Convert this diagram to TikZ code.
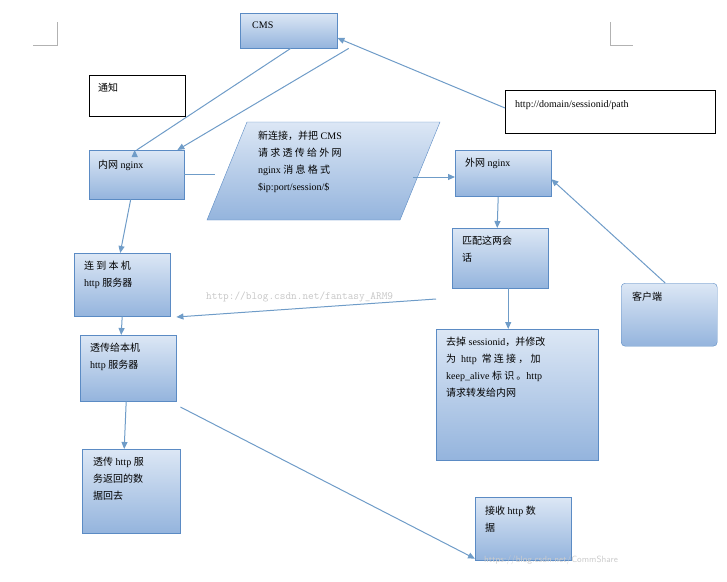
\documentclass[tikz,border=0pt]{standalone}
\usepackage{fontspec}
\setmainfont{Liberation Serif}
\newfontfamily\zh{Noto Sans CJK SC}
\usetikzlibrary{positioning,arrows.meta}
\definecolor{boxline}{HTML}{5B8BC4}
\definecolor{boxtop}{HTML}{DCE7F5}
\definecolor{boxbot}{HTML}{94B4DD}
\definecolor{arrowcol}{HTML}{6F9CC8}
\tikzset{
  box/.style={draw=boxline,top color=boxtop,bottom color=boxbot,anchor=north west,inner sep=0pt},
  plainbox/.style={draw=black,fill=white,anchor=north west,inner sep=0pt},
  txt/.style={anchor=north west,align=left,font=\fontsize{10}{17}\selectfont,inner sep=0pt},
  link/.style={draw=arrowcol,line width=1pt,-{Triangle[length=7pt,width=6pt]}}
}
\begin{document}
\begin{tikzpicture}[x=1pt,y=-1pt]
\useasboundingbox (0,0) rectangle (727,581);
% page corner marks
\draw[gray!60] (33,45)--(57,45)--(57,22) (610,22)--(610,45)--(633,45);
% boxes
\node[box,minimum width=97,minimum height=35] (cms) at (240,13) {};
\node[txt] at (252,22) {CMS};
\node[plainbox,minimum width=96,minimum height=41] (notice) at (89,75) {};
\node[txt] at (98,83) {\zh 通知};
\node[plainbox,minimum width=210,minimum height=43] (url) at (505,90) {};
\node[txt] at (515,100) {http://domain/sessionid/path};
\node[box,minimum width=95,minimum height=49] (inner) at (89,150) {};
\node[txt] at (98,160) {{\zh 内网} nginx};
\path[draw=boxline,top color=boxtop,bottom color=boxbot] (247,122)--(440,122)--(400,220)--(207,220)--cycle;
\coordinate (paraL) at (215,174);
\coordinate (paraR) at (413,177);
\node[txt] at (258,131) {{\zh 新连接，并把} CMS\\{\zh 请 求 透 传 给 外 网}\\nginx {\zh 消 息 格 式}\\\$ip:port/session/\$};
\node[box,minimum width=96,minimum height=46] (outer) at (455,150) {};
\node[txt] at (465,158) {{\zh 外网} nginx};
\node[box,minimum width=96,minimum height=60] (match) at (452,228) {};
\node[txt] at (462,236) {\zh 匹配这两会\\\zh 话};
\node[box,rounded corners=4pt,minimum width=96,minimum height=63] (client) at (621,283) {};
\node[txt] at (632,292) {\zh 客户端};
\node[box,minimum width=96,minimum height=63] (local) at (74,253) {};
\node[txt] at (84,261) {\zh 连 到 本 机\\http {\zh 服务器}};
\node[box,minimum width=96,minimum height=66] (relay) at (80,335) {};
\node[txt] at (90,343) {\zh 透传给本机\\http {\zh 服务器}};
\node[box,minimum width=162,minimum height=131] (strip) at (436,329) {};
\node[txt] at (446,337) {{\zh 去掉} sessionid{\zh ，并修改}\\{\zh 为} \ http \ {\zh 常 连 接 ， 加}\\keep\_alive {\zh 标 识 。}http\\\zh 请求转发给内网};
\node[box,minimum width=98,minimum height=84] (back) at (82,449) {};
\node[txt] at (93,457) {{\zh 透传} http {\zh 服}\\\zh 务返回的数\\\zh 据回去};
\node[box,minimum width=96,minimum height=63] (recv) at (475,497) {};
\node[txt] at (485,506) {{\zh 接收} http {\zh 数}\\\zh 据};
% watermarks
\node[txt,text=gray!45,font=\ttfamily\fontsize{11}{13}\selectfont] at (206,292) {http://blog.csdn.net/fantasy\_ARM9};
\node[txt,text=gray!40,font=\sffamily\fontsize{9}{11}\selectfont] at (484,556) {https://blog.csdn.net/CommShare};
% connectors
\draw[link] (url.west |- 0,108) -- (cms.east |- 0,38);
\draw[link] (cms.south) ++(2,0) -- (inner.north) ++(-2,0);
\draw[link] ([xshift=60pt]cms.south) -- ([xshift=-7pt]inner.north east);
\draw[draw=arrowcol,line width=1pt] (inner.east |- 0,174) -- (paraL);
\draw[link] (paraR) -- (outer.west |- 0,177);
\draw[link] (outer.south |- 0,197) ++(-5,0) -- ([xshift=-3pt]match.north);
\draw[link] ([xshift=8pt]match.south) -- ([xshift=-9pt]strip.north);
\draw[link] ([xshift=-4pt]client.north) -- ([yshift=-6pt]outer.east);
\draw[link] ([xshift=-6pt]inner.south) -- ([xshift=-2pt]local.north);
\draw[link] (local.south) -- ([xshift=-7pt]relay.north);
\draw[link] ([yshift=30pt]strip.north west) -- ([yshift=18pt]relay.north east);
\draw[link] ([xshift=-2pt]relay.south) -- ([xshift=-7pt]back.north);
\draw[link] ([yshift=42pt]back.north east) -- ([yshift=-30pt]recv.west);
\end{tikzpicture}
\end{document}
